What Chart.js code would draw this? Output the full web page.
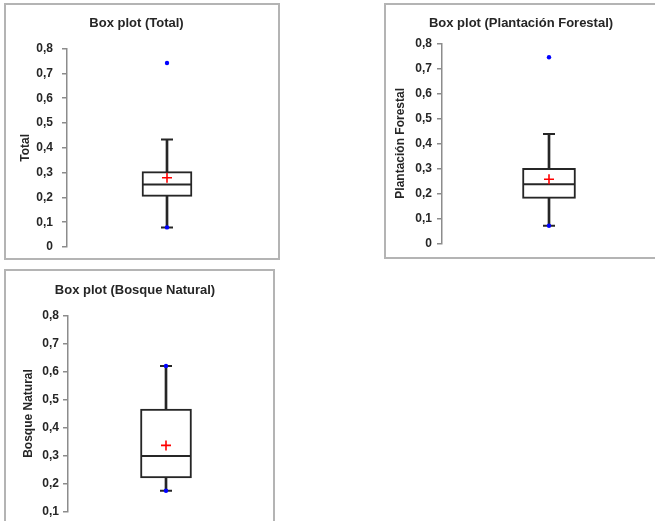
<!DOCTYPE html>
<html>
<head>
<meta charset="utf-8">
<script src="https://cdn.jsdelivr.net/npm/chart.js@4"></script>
<style>
  html, body { margin: 0; padding: 0; background: #fff; width: 655px; height: 521px; overflow: hidden; }
  .panel { position: absolute; box-sizing: border-box; border: 2px solid #b4b4b4; overflow: hidden; background: #fff; }
  .panel canvas { position: absolute; left: 0; top: 0; }
</style>
</head>
<body>
<div class="panel" id="p1" style="left:4px; top:3px; width:276px; height:257px;"><canvas id="c1"></canvas></div>
<div class="panel" id="p2" style="left:384px; top:3px; width:300px; height:256px;"><canvas id="c2"></canvas></div>
<div class="panel" id="p3" style="left:4px; top:269px; width:271px; height:300px;"><canvas id="c3"></canvas></div>
<script>
// ---- data ----
const categories = ['Total', 'Plantación Forestal', 'Bosque Natural'];
const whiskerLow = [0.079, 0.070, 0.174];
const q1Values = [0.204, 0.180, 0.220];
const medianValues = [0.252, 0.236, 0.298];
const q3Values = [0.304, 0.300, 0.466];
const whiskerHigh = [0.433, 0.437, 0.620];
const meanValues = [0.279, 0.256, 0.336];
const minValues = [0.079, 0.070, 0.174];
const maxValues = [0.742, 0.744, 0.620];
const axisMin = [0, 0, 0.1];
const axisMax = [0.8, 0.8, 0.8];

const INK = '#262626';
const FONT = "'Liberation Sans', Arial, sans-serif";

// sizes / paddings for each panel (layout only)
const layouts = [
    {id: 'c1', w: 272, h: 253, axisW: 61, right: 11, bottom: 11, tTop: 11, tBottom: 17, yTitlePad: 12, tickPad: 9, box: 50},
    {id: 'c2', w: 282, h: 252, axisW: 56, right: 12, bottom: 13.7, tTop: 11, tBottom: 11.7, yTitlePad: 7, tickPad: 5, box: 53},
    {id: 'c3', w: 267, h: 255, axisW: 62, right: 9, bottom: 14.6, tTop: 12, tBottom: 17, yTitlePad: 15, tickPad: 4, box: 51}
];

function formatTick(value) {
    if (Math.abs(value) < 1e-9) return '0';
    return value.toFixed(1).replace('.', ',');
}

function makeBoxChart(i) {
    const L = layouts[i];
    const cat = categories[i];
    const canvas = document.getElementById(L.id);
    canvas.width = L.w;
    canvas.height = L.h;
    canvas.style.width = L.w + 'px';
    canvas.style.height = L.h + 'px';

    return new Chart(canvas, {
        data: {
            labels: [cat],
            datasets: [
                {
                    type: 'bar', label: 'whisker',
                    data: [[whiskerLow[i], whiskerHigh[i]]],
                    backgroundColor: INK, barThickness: 2, grouped: false, order: 5
                },
                {
                    type: 'bar', label: 'box',
                    data: [[q1Values[i], q3Values[i]]],
                    backgroundColor: '#ffffff', borderColor: INK, borderWidth: 2,
                    borderSkipped: false, barThickness: L.box, grouped: false, order: 4
                },
                {
                    type: 'line', label: 'median', showLine: false,
                    data: [{x: cat, y: medianValues[i]}],
                    pointStyle: 'line', pointRadius: L.box / 2 - 1, pointBorderWidth: 2,
                    borderColor: INK, order: 3
                },
                {
                    type: 'line', label: 'caps', showLine: false,
                    data: [{x: cat, y: whiskerLow[i]}, {x: cat, y: whiskerHigh[i]}],
                    pointStyle: 'line', pointRadius: 6, pointBorderWidth: 2,
                    borderColor: INK, order: 2
                },
                {
                    type: 'line', label: 'mean', showLine: false,
                    data: [{x: cat, y: meanValues[i]}],
                    pointStyle: 'cross', pointRadius: 5, pointBorderWidth: 1.6,
                    borderColor: '#ff0000', order: 1
                },
                {
                    type: 'line', label: 'min/max', showLine: false,
                    data: [{x: cat, y: minValues[i]}, {x: cat, y: maxValues[i]}],
                    pointStyle: 'circle', pointRadius: 2.2, pointBorderWidth: 0,
                    backgroundColor: '#0000ff', borderColor: '#0000ff', order: 0
                }
            ]
        },
        options: {
            responsive: false,
            animation: false,
            events: [],
            layout: {autoPadding: false, padding: {left: 0, right: L.right, top: 0, bottom: L.bottom}},
            plugins: {
                legend: {display: false},
                tooltip: {enabled: false},
                title: {
                    display: true,
                    text: 'Box plot (' + cat + ')',
                    color: INK,
                    font: {family: FONT, size: 13, weight: 'bold'},
                    padding: {top: L.tTop, bottom: L.tBottom}
                }
            },
            scales: {
                x: {display: false, offset: true},
                y: {
                    min: axisMin[i],
                    max: axisMax[i],
                    afterFit: scale => {
                        scale.width = L.axisW;
                        // keep label padding from pushing the plot area in
                        scale.paddingTop = 7;
                        scale.paddingBottom = 7;
                    },
                    title: {
                        display: true, text: cat, color: INK,
                        font: {family: FONT, size: 12, weight: 'bold'},
                        padding: {top: L.yTitlePad, bottom: 0}
                    },
                    ticks: {
                        stepSize: 0.1, padding: L.tickPad, color: INK,
                        font: {family: FONT, size: 12, weight: 'bold'},
                        callback: value => formatTick(value)
                    },
                    grid: {drawOnChartArea: false, tickLength: 5, color: '#8c8c8c', lineWidth: 1.5},
                    border: {color: '#8c8c8c', width: 1.5}
                }
            }
        }
    });
}

categories.forEach((c, i) => makeBoxChart(i));
</script>
</body>
</html>
